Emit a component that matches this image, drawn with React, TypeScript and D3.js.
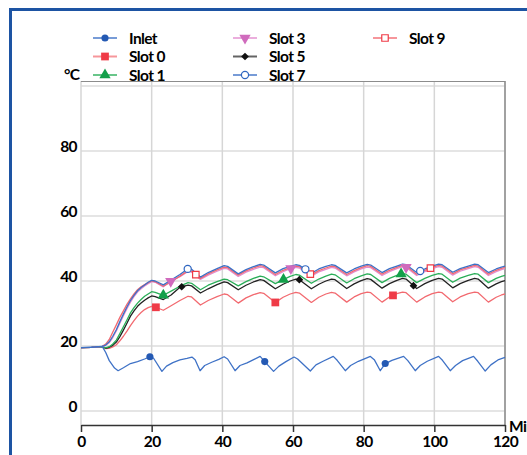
import React, { useEffect, useRef } from 'react';
import * as d3 from 'd3';

// inlet has its own sampling (sharper dips)
const inletMinutes = [0, 4, 6, 7, 8, 9.5, 10.5, 12, 14, 16, 18, 19.5, 20.5, 22.9, 24.2, 26, 28, 30, 31.4, 32.3, 33.7, 35, 37, 39, 40.5, 41.5, 43.6, 45, 47, 49, 50.7, 52, 54.5, 56, 58, 60.3, 61.3, 64.9, 66.5, 68.5, 71.4, 72.5, 74.8, 76.3, 78.5, 81.9, 83, 84.7, 86.1, 88, 91.3, 92.5, 94.6, 96, 98, 101.2, 102.3, 104.5, 106, 108, 111.1, 112.3, 114.4, 116, 118, 120];
const inletTemps = [19.5, 19.7, 19.9, 18, 15.5, 13.2, 12.4, 13.3, 14.6, 15.2, 16, 16.7, 16.3, 12.2, 13.8, 14.9, 15.7, 16.2, 16.6, 15.8, 12.4, 14, 15, 15.9, 16.7, 16, 12.4, 14, 14.8, 15.9, 16.8, 15.2, 12.2, 13.8, 15.2, 16.6, 16, 12.3, 14.2, 15.3, 16.8, 15.6, 12.4, 14, 15.3, 16.8, 15.8, 12.4, 14.6, 15.6, 16.8, 15.5, 12.4, 14, 15.3, 16.8, 15.6, 12.4, 14, 15.5, 16.8, 15.3, 12.3, 14.2, 15.7, 16.5];

const slotMinutes = [0, 3, 6, 7, 8, 9, 10, 11, 12, 13, 14, 15, 16, 17, 18, 19, 20, 21,
  23.3, 25.5, 28, 30.3, 31.3, 33.8, 36, 38.5, 40.5, 41.5, 44.5, 46.7, 48.8, 50.7, 51.7,
  55, 57.2, 59.2, 60.8, 61.8, 65.2, 67.3, 69.3, 70.9, 71.9, 75.2, 77.3, 79.3, 81, 82,
  85.2, 87.3, 89.4, 91, 92, 95, 97.3, 99.4, 101.2, 102.2, 105.2, 107.3, 109.6, 111.4, 112.4,
  115.3, 117.5, 119, 120];

const slot0 = [19.5, 19.6, 19.8, 19.2, 19.3, 19.7, 20.4, 21.6, 23.0, 24.6, 26.3, 27.8, 29.2, 30.3, 31.2, 31.8, 32.2, 32.0,
  31.0, 32.4, 34.0, 35.3, 35.1, 32.6, 34.0, 35.2, 36.0, 35.8, 33.2, 34.8, 35.8, 36.4, 36.2,
  33.4, 35.0, 36.0, 36.5, 36.3, 33.4, 35.0, 36.0, 36.5, 36.3, 33.5, 35.1, 36.1, 36.6, 36.4,
  33.5, 35.1, 36.1, 36.6, 36.4, 33.5, 35.1, 36.1, 36.6, 36.4, 33.6, 35.1, 36.1, 36.6, 36.4,
  33.5, 35.0, 35.7, 36.0];
const slot1 = [19.5, 19.6, 19.8, 19.4, 19.8, 20.6, 21.8, 23.8, 25.9, 28.0, 30.2, 31.8, 33.2, 34.3, 35.3, 36.0, 36.7, 36.5,
  35.6, 36.9, 38.4, 39.5, 39.3, 37.3, 38.7, 39.8, 40.6, 40.4, 38.5, 39.8, 40.8, 41.5, 41.3,
  39.2, 40.4, 41.4, 42.0, 41.8, 39.3, 40.6, 41.5, 42.1, 41.9, 39.4, 40.7, 41.6, 42.2, 42.0,
  39.5, 40.8, 41.7, 42.3, 42.1, 39.5, 40.8, 41.7, 42.3, 42.1, 39.6, 40.9, 41.7, 42.3, 42.1,
  39.5, 40.8, 41.4, 41.7];
const slot3 = [19.5, 19.6, 19.9, 20.2, 21.0, 22.6, 24.6, 27.0, 29.3, 31.5, 33.5, 35.2, 36.6, 37.6, 38.5, 39.2, 39.8, 39.6,
  38.2, 40.0, 41.3, 42.9, 42.7, 40.5, 41.8, 43.0, 43.9, 43.7, 41.4, 42.7, 43.6, 44.3, 44.1,
  41.6, 42.9, 43.8, 44.2, 44.0, 41.5, 42.8, 43.6, 44.2, 44.0, 41.6, 42.8, 43.7, 44.3, 44.1,
  41.7, 42.9, 43.8, 44.4, 44.2, 41.7, 42.9, 43.8, 44.4, 44.2, 41.8, 43.0, 43.8, 44.4, 44.2,
  41.7, 42.9, 43.5, 43.8];
const slot5 = [19.5, 19.6, 19.8, 19.3, 19.6, 20.2, 21.2, 22.9, 24.9, 27.0, 29.2, 30.8, 32.2, 33.2, 34.1, 34.8, 35.4, 35.2,
  34.3, 35.7, 38.1, 38.7, 38.5, 36.3, 37.6, 38.9, 39.7, 39.5, 37.3, 38.7, 39.7, 40.4, 40.2,
  37.6, 39.0, 40.0, 40.6, 40.4, 37.6, 39.0, 40.0, 40.6, 40.4, 37.7, 39.1, 40.1, 40.7, 40.5,
  37.8, 39.2, 40.2, 40.8, 40.6, 37.7, 39.2, 40.2, 40.8, 40.6, 37.9, 39.2, 40.2, 40.8, 40.6,
  37.8, 39.1, 39.8, 40.1];
const slot7 = [19.5, 19.6, 19.9, 20.3, 21.3, 23.0, 25.0, 27.5, 29.8, 32.0, 34.0, 35.6, 37.0, 38.0, 38.8, 39.6, 40.2, 40.0,
  38.8, 40.3, 42.0, 43.8, 43.6, 41.2, 42.6, 43.8, 44.7, 44.5, 42.2, 43.5, 44.4, 45.1, 44.9,
  42.5, 43.8, 44.5, 45.0, 44.8, 42.4, 43.7, 44.5, 45.0, 44.8, 42.5, 43.7, 44.6, 45.1, 44.9,
  42.6, 43.8, 44.6, 45.2, 45.0, 42.6, 43.7, 44.6, 45.2, 45.0, 42.7, 43.8, 44.6, 45.2, 45.0,
  42.6, 43.7, 44.3, 44.6];
const slot9 = [19.5, 19.6, 19.9, 20.6, 22.0, 24.3, 26.5, 28.8, 30.8, 32.8, 34.5, 36.0, 37.3, 38.2, 38.9, 39.5, 40.0, 39.8,
  38.4, 39.8, 41.5, 43.2, 43.0, 40.8, 42.2, 43.4, 44.3, 44.1, 41.8, 43.1, 44.0, 44.7, 44.5,
  42.0, 43.3, 44.1, 44.6, 44.4, 41.9, 43.2, 44.0, 44.6, 44.4, 42.0, 43.2, 44.1, 44.7, 44.5,
  42.1, 43.3, 44.2, 44.8, 44.6, 42.1, 43.3, 44.2, 44.8, 44.6, 42.2, 43.4, 44.2, 44.8, 44.6,
  42.1, 43.3, 43.9, 44.2];

// minutes where each series shows its symbol
const inletMarks = [19.5, 52, 86.1];
const slot0Marks = [21.2, 55, 88.3];
const slot1Marks = [23.3, 57.3, 90.6];
const slot3Marks = [25.4, 59.4, 92];
const slot5Marks = [28.5, 61.8, 94.1];
const slot7Marks = [30.2, 63.5, 96];
const slot9Marks = [32.5, 64.9, 98.9];

const xTicks = [0, 20, 40, 60, 80, 100, 120];
const yTicks = [0, 20, 40, 60, 80];
const yGrid = [0, 20, 40, 60, 80, 100];

const series = [
  { name: 'Slot 0', x: slotMinutes, y: slot0, marks: slot0Marks, color: '#ef3b47', line: '#f26a70', symbol: d3.symbolSquare, size: 60, rot: 0, open: false, col: 0, row: 1 },
  { name: 'Slot 5', x: slotMinutes, y: slot5, marks: slot5Marks, color: '#111111', line: '#222222', symbol: d3.symbolSquare, size: 30, rot: 45, open: false, col: 1, row: 1 },
  { name: 'Slot 1', x: slotMinutes, y: slot1, marks: slot1Marks, color: '#13a04a', line: '#2aae58', symbol: d3.symbolTriangle, size: 55, rot: 0, open: false, col: 0, row: 2 },
  { name: 'Slot 3', x: slotMinutes, y: slot3, marks: slot3Marks, color: '#d06bbd', line: '#e38ccf', symbol: d3.symbolTriangle, size: 55, rot: 180, open: false, col: 1, row: 0 },
  { name: 'Slot 9', x: slotMinutes, y: slot9, marks: slot9Marks, color: '#ef3b47', line: '#f26a70', symbol: d3.symbolSquare, size: 42, rot: 0, open: true, col: 2, row: 0 },
  { name: 'Slot 7', x: slotMinutes, y: slot7, marks: slot7Marks, color: '#2f66c0', line: '#3d70c6', symbol: d3.symbolCircle, size: 40, rot: 0, open: true, col: 1, row: 2 },
  { name: 'Inlet', x: inletMinutes, y: inletTemps, marks: inletMarks, color: '#2459b3', line: '#3f72c6', symbol: d3.symbolCircle, size: 40, rot: 0, open: false, col: 0, row: 0 },
];

const FONT = 'Lato, sans-serif';

function TempChart() {
  const ref = useRef<SVGSVGElement>(null);

  useEffect(() => {
    const svg = d3.select(ref.current);
    svg.selectAll('*').remove();

    const left = 81, right = 505, top = 81, bottom = 425;
    const x = d3.scaleLinear().domain([0, 120]).range([left, right]);
    const y = d3.scaleLinear().domain([0, 100]).range([411, 86]);

    // outer blue frame
    svg.append('rect')
      .attr('x', 10.5).attr('y', 9.5).attr('width', 700).attr('height', 700)
      .attr('fill', 'none').attr('stroke', '#1d54a3').attr('stroke-width', 3);

    const grid = svg.append('g');
    grid.selectAll('.hg').data(yGrid).enter().append('line')
      .attr('x1', left).attr('x2', right)
      .attr('y1', d => y(d)).attr('y2', d => y(d))
      .attr('stroke', '#dcdcdc').attr('stroke-width', 1.5);
    grid.selectAll('.vg').data(xTicks).enter().append('line')
      .attr('x1', d => x(d)).attr('x2', d => x(d))
      .attr('y1', top).attr('y2', bottom)
      .attr('stroke', '#d6d6d6').attr('stroke-width', 1.5);

    svg.append('line').attr('x1', left).attr('x2', right).attr('y1', top + 0.5).attr('y2', top + 0.5)
      .attr('stroke', '#8c8c8c').attr('stroke-width', 1);
    svg.append('line').attr('x1', right).attr('x2', right).attr('y1', top).attr('y2', bottom)
      .attr('stroke', '#8c8c8c').attr('stroke-width', 1.5);

    // bottom axis
    const axis = svg.append('g').attr('transform', `translate(0,${bottom})`)
      .call(d3.axisBottom(x).tickValues(xTicks).tickSize(7).tickPadding(4).tickSizeOuter(0));
    axis.select('.domain').attr('stroke', '#333').attr('stroke-width', 1.5);
    axis.selectAll('.tick line').attr('stroke', '#333').attr('stroke-width', 1.5);
    axis.selectAll('.tick text')
      .attr('font-family', FONT).attr('font-weight', 700).attr('font-size', 15.5)
      .attr('letter-spacing', -0.6).attr('fill', '#000');

    // unit label sits at the very edge, clipped as in the source
    svg.append('text').attr('x', 509).attr('y', 432)
      .attr('font-family', FONT).attr('font-weight', 700).attr('font-size', 15.5)
      .attr('letter-spacing', -0.6).text('Min');

    svg.selectAll('.ylab').data(yTicks).enter().append('text')
      .attr('x', 77).attr('y', d => y(d) + 1)
      .attr('text-anchor', 'end')
      .attr('font-family', FONT).attr('font-weight', 700).attr('font-size', 15.5)
      .attr('letter-spacing', -0.6)
      .text(d => d);

    svg.append('text').attr('x', 64).attr('y', 80)
      .attr('font-family', FONT).attr('font-weight', 700).attr('font-size', 15.5)
      .attr('letter-spacing', -0.6).text('°C');

    // lines
    const line = d3.line<[number, number]>().x(d => x(d[0])).y(d => y(d[1]));
    series.forEach(s => {
      const pts = s.x.map((m, i) => [m, s.y[i]] as [number, number]);
      svg.append('path').datum(pts)
        .attr('fill', 'none').attr('stroke', s.line).attr('stroke-width', 1.3)
        .attr('stroke-linejoin', 'round')
        .attr('d', line);
    });

    // symbols sit on the drawn line
    const onLine = (s: any, m: number) => {
      const i = Math.max(1, d3.bisectLeft(s.x, m));
      const x0 = s.x[i - 1], x1 = s.x[i];
      const t = x1 === x0 ? 0 : (m - x0) / (x1 - x0);
      return s.y[i - 1] + (s.y[i] - s.y[i - 1]) * t;
    };
    series.forEach(s => {
      svg.selectAll(null).data(s.marks).enter().append('path')
        .attr('d', d3.symbol(s.symbol, s.size)())
        .attr('transform', m => `translate(${x(m)},${y(onLine(s, m))}) rotate(${s.rot})`)
        .attr('fill', s.open ? '#fff' : s.color)
        .attr('stroke', s.color).attr('stroke-width', s.open ? 1.2 : 0);
    });

    // legend
    const colX = [93, 233, 373];
    const rowY = [38, 56.5, 75];
    series.forEach(s => {
      const g = svg.append('g').attr('transform', `translate(${colX[s.col]},${rowY[s.row]})`);
      g.append('line').attr('x1', 0).attr('x2', 24).attr('y1', 0).attr('y2', 0)
        .attr('stroke', s.line).attr('stroke-opacity', 0.7).attr('stroke-width', 2);
      g.append('path').attr('d', d3.symbol(s.symbol, s.size)())
        .attr('transform', `translate(12,0) rotate(${s.rot})`)
        .attr('fill', s.open ? '#fff' : s.color)
        .attr('stroke', s.color).attr('stroke-width', s.open ? 1.2 : 0);
      g.append('text').attr('x', 36).attr('y', 5.5)
        .attr('font-family', FONT).attr('font-weight', 700).attr('font-size', 15.5)
        .attr('letter-spacing', -0.6).text(s.name);
    });
  }, []);

  return <svg ref={ref} width={527} height={455} style={{ position: 'absolute', left: 0, top: 0, background: '#fff' }} />;
}

export default function App() {
  return <TempChart />;
}
